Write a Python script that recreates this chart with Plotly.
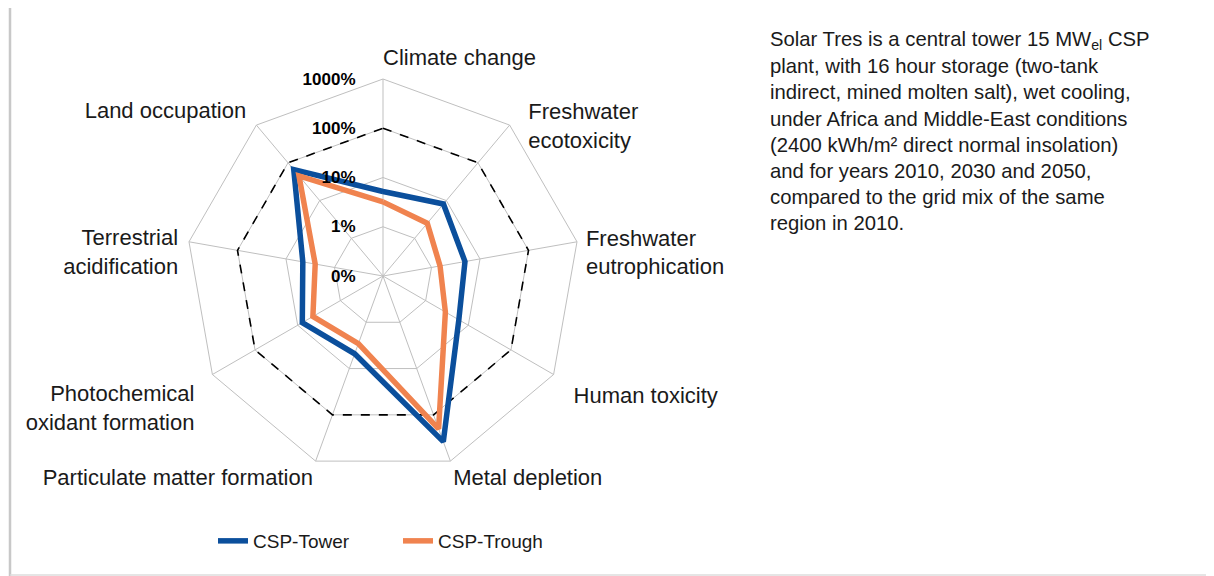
import plotly.graph_objects as go

# ---- data -------------------------------------------------------------
categories = [
    "Climate change",
    "Freshwater<br>ecotoxicity",
    "Freshwater<br>eutrophication",
    "Human toxicity",
    "Metal depletion",
    "Particulate matter formation",
    "Photochemical<br>oxidant formation",
    "Terrestrial<br>acidification",
    "Land occupation",
]
# impacts relative to the 2010 regional grid mix (percent)
csp_tower = [5.2, 8.1, 4.9, 6.0, 380, 4.8, 7.8, 4.5, 66]
csp_trough = [3.2, 2.5, 1.5, 2.9, 200, 2.9, 4.4, 2.5, 45]
grid_mix = [100, 100, 100, 100, 100, 100, 100, 100, 100]

tick_vals = [0.1, 1, 10, 100, 1000]
tick_text = ["0%", "1%", "10%", "100%", "1000%"]

side_text = [
    "Solar Tres is a central tower 15 MW<sub>el</sub> CSP",
    "plant, with 16 hour storage (two-tank",
    "indirect, mined molten salt), wet cooling,",
    "under Africa and Middle-East conditions",
    "(2400 kWh/m² direct normal insolation)",
    "and for years 2010, 2030 and 2050,",
    "compared to the grid mix of the same",
    "region in 2010.",
]

# ---- style ------------------------------------------------------------
FONT = "Liberation Sans, Arial, Helvetica, sans-serif"
BLUE = "#0B4F9C"
ORANGE = "#F0834F"
GRID = "#BFBFBF"
TXT = "#1a1a1a"

W, H = 1206, 568           # page body adds an 8px margin
cx, cy, R = 375, 268, 197  # polar centre / radius in figure pixels
LABEL_SPAN = 1.25          # overlay polar (for category labels) reaches 1.25 R

# category label placement (style): distance from centre as a fraction of
# the chart radius, and the text anchor for each label
label_radius = [1.041, 1.147, 1.046, 1.117, 1.041, 1.041, 1.105, 1.056, 1.081]
label_anchor = ["top right", "bottom right", "middle right", "bottom right",
                "bottom right", "bottom left", "bottom left", "middle left",
                "middle left"]
# side labels hang below their spoke, like the original chart
label_text = [("<br>" + c) if (a.startswith("middle") and "<br>" in c) else c
              for c, a in zip(categories, label_anchor)]


def closed(v):
    return list(v) + [v[0]]


def make_domain(rad):
    return dict(x=[(cx - rad) / W, (cx + rad) / W],
                y=[(H - cy - rad) / H, (H - cy + rad) / H])


theta = closed(categories)

fig = go.Figure()
fig.add_trace(go.Scatterpolar(
    r=closed(grid_mix), theta=theta, mode="lines",
    line=dict(color="black", width=1.6, dash="dash"),
    showlegend=False, hoverinfo="skip",
))
fig.add_trace(go.Scatterpolar(
    r=closed(csp_tower), theta=theta, mode="lines", name="CSP-Tower",
    line=dict(color=BLUE, width=5.5),
))
fig.add_trace(go.Scatterpolar(
    r=closed(csp_trough), theta=theta, mode="lines", name="CSP-Trough",
    line=dict(color=ORANGE, width=5.5),
))
# category labels around the chart, on a transparent overlay polar
fig.add_trace(go.Scatterpolar(
    r=label_radius, theta=categories, mode="text", subplot="polar2",
    text=label_text, textposition=label_anchor,
    textfont=dict(family=FONT, size=22, color=TXT),
    showlegend=False, hoverinfo="skip", cliponaxis=False,
))

fig.update_layout(
    width=W, height=H,
    margin=dict(l=0, r=0, t=0, b=0),
    paper_bgcolor="white",
    font=dict(family=FONT, color=TXT),
    polar=dict(
        domain=make_domain(R),
        bgcolor="white",
        gridshape="linear",
        angularaxis=dict(
            direction="clockwise", rotation=90,
            categoryorder="array", categoryarray=categories,
            showline=True, linecolor=GRID, linewidth=1,
            gridcolor=GRID, gridwidth=1,
            ticks="", showticklabels=False,
        ),
        radialaxis=dict(
            type="log", range=[-1.0001, 3],
            tickvals=tick_vals, ticktext=["<b>%s</b>" % t for t in tick_text],
            showticklabels=True, side="counterclockwise", angle=90,
            tickangle=90,
            ticks="outside", ticklen=21, tickcolor="rgba(0,0,0,0)",
            tickfont=dict(family=FONT, size=17, color="black"),
            showline=False,
            gridcolor=GRID, gridwidth=1,
        ),
    ),
    polar2=dict(
        domain=make_domain(R * LABEL_SPAN),
        bgcolor="rgba(0,0,0,0)",
        gridshape="linear",
        angularaxis=dict(
            direction="clockwise", rotation=90,
            categoryorder="array", categoryarray=categories,
            visible=False,
        ),
        radialaxis=dict(range=[0, LABEL_SPAN], visible=False),
    ),
    legend=dict(
        orientation="h", x=(cx + 15) / W, xanchor="center",
        y=(H - 533) / H, yanchor="middle",
        font=dict(family=FONT, size=19, color=TXT),
        entrywidth=140, tracegroupgap=0,
    ),
    shapes=[
        dict(type="line", xref="paper", yref="paper",
             x0=2 / W, x1=2 / W, y0=0, y1=1,
             line=dict(color="#C8C8C8", width=2.5)),
        dict(type="line", xref="paper", yref="paper",
             x0=2 / W, x1=1, y0=1 / H, y1=1 / H,
             line=dict(color="#DDDDDD", width=1.5)),
    ],
)

line_gap = 26.2
for i, line in enumerate(side_text):
    fig.add_annotation(
        text=line, xref="paper", yref="paper",
        x=760 / W, y=(H - 32 - i * line_gap) / H,
        xanchor="left", yanchor="middle", showarrow=False, align="left",
        font=dict(family=FONT, size=20.3, color=TXT),
    )

fig.write_html("out.html")
